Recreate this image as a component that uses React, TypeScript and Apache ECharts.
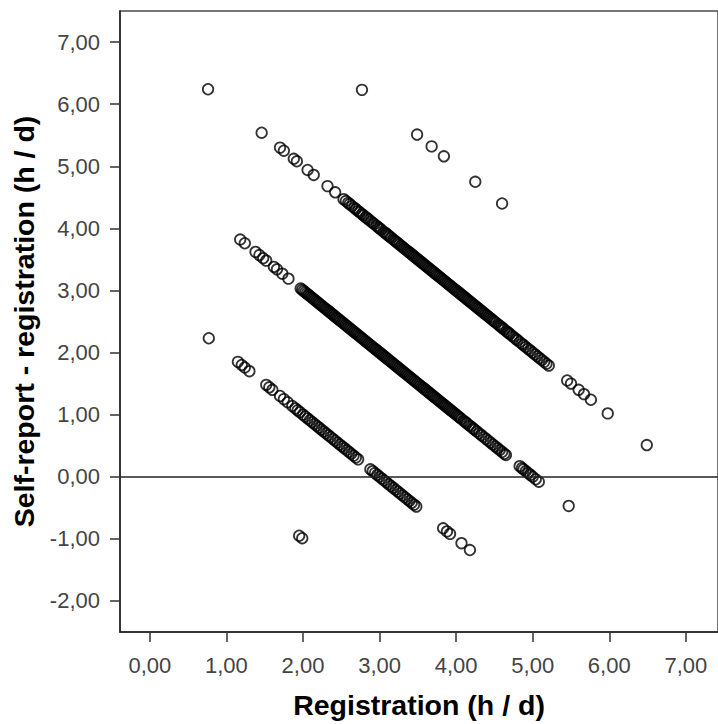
import React, { useEffect, useRef } from "react";
import * as echarts from "echarts";

// Self-reported hours per day (categories) and registered (measured) hours per day
const selfReport1 = 1;
const registration1 = [1.95, 1.99];

const selfReport3 = 3;
const registration3 = [
  0.77, 1.15, 1.2, 1.24, 1.3, 1.52, 1.56, 1.6, 1.7, 1.75, 1.8, 1.86, 1.9, 1.93, 1.96, 2.0,
  2.03, 2.06, 2.09, 2.12, 2.15, 2.18, 2.21, 2.24, 2.27, 2.3, 2.33, 2.36, 2.39, 2.42, 2.45,
  2.48, 2.51, 2.54, 2.57, 2.6, 2.63, 2.66, 2.69, 2.72, 2.88, 2.91, 2.94, 2.97, 3.0, 3.03,
  3.06, 3.09, 3.12, 3.15, 3.18, 3.21, 3.24, 3.27, 3.3, 3.33, 3.36, 3.39, 3.42, 3.45, 3.48,
  3.83, 3.88, 3.92, 4.07, 4.18,
];

const selfReport5 = 5;
const registration5 = [
  1.18, 1.24, 1.38, 1.43, 1.48, 1.52, 1.62, 1.66, 1.73, 1.81, 1.97, 1.99, 2.01, 2.03, 2.05,
  2.07, 2.09, 2.11, 2.13, 2.15, 2.17, 2.19, 2.21, 2.23, 2.25, 2.27, 2.29, 2.31, 2.33, 2.35,
  2.37, 2.39, 2.41, 2.43, 2.45, 2.47, 2.49, 2.51, 2.53, 2.55, 2.57, 2.59, 2.61, 2.63, 2.65,
  2.67, 2.69, 2.71, 2.73, 2.75, 2.77, 2.79, 2.81, 2.83, 2.85, 2.87, 2.89, 2.91, 2.93, 2.95,
  2.97, 2.99, 3.01, 3.03, 3.05, 3.07, 3.09, 3.11, 3.13, 3.15, 3.17, 3.19, 3.21, 3.23, 3.25,
  3.27, 3.29, 3.31, 3.33, 3.35, 3.37, 3.39, 3.41, 3.43, 3.45, 3.47, 3.49, 3.51, 3.53, 3.55,
  3.57, 3.59, 3.61, 3.63, 3.65, 3.67, 3.69, 3.71, 3.73, 3.75, 3.77, 3.79, 3.81, 3.83, 3.85,
  3.87, 3.89, 3.91, 3.93, 3.95, 3.97, 3.99, 4.01, 4.03, 4.05, 4.07, 4.1, 4.12, 4.14, 4.17,
  4.19, 4.22, 4.24, 4.27, 4.3, 4.33, 4.36, 4.39, 4.42, 4.45, 4.48, 4.51, 4.54, 4.57, 4.6,
  4.63, 4.65, 4.83, 4.86, 4.88, 4.91, 4.94, 4.97, 5.0, 5.04, 5.08, 5.47,
];

const selfReport7 = 7;
const registration7 = [
  0.76, 1.46, 1.7, 1.75, 1.88, 1.92, 2.06, 2.14, 2.32, 2.42, 2.53, 2.56, 2.59, 2.61, 2.64,
  2.67, 2.69, 2.72, 2.74, 2.77, 2.79, 2.82, 2.84, 2.86, 2.89, 2.91, 2.93, 2.96, 2.98, 3.0,
  3.02, 3.05, 3.07, 3.09, 3.11, 3.13, 3.15, 3.18, 3.2, 3.22, 3.24, 3.26, 3.28, 3.3, 3.32,
  3.34, 3.36, 3.38, 3.4, 3.42, 3.44, 3.46, 3.48, 3.5, 3.52, 3.54, 3.56, 3.58, 3.6, 3.62,
  3.64, 3.66, 3.68, 3.7, 3.72, 3.74, 3.76, 3.78, 3.8, 3.82, 3.84, 3.86, 3.88, 3.9, 3.92,
  3.94, 3.96, 3.98, 4.0, 4.02, 4.04, 4.06, 4.08, 4.1, 4.12, 4.14, 4.16, 4.18, 4.2, 4.22,
  4.24, 4.26, 4.28, 4.3, 4.32, 4.34, 4.36, 4.38, 4.4, 4.42, 4.44, 4.46, 4.48, 4.5, 4.52,
  4.55, 4.57, 4.59, 4.61, 4.63, 4.66, 4.68, 4.7, 4.73, 4.75, 4.78, 4.8, 4.83, 4.86, 4.88,
  4.91, 4.94, 4.97, 5.0, 5.03, 5.06, 5.09, 5.12, 5.15, 5.18, 5.21, 5.45, 5.5, 5.6, 5.67,
  5.76, 5.98, 6.49,
];

const selfReport9 = 9;
const registration9 = [2.77, 3.49, 3.68, 3.84, 4.25, 4.6];

const xTicks = [0, 1, 2, 3, 4, 5, 6, 7];
const yTicks = [-2, -1, 0, 1, 2, 3, 4, 5, 6, 7];
const referenceLineY = 0;

const groups: Array<[number, number[]]> = [
  [selfReport1, registration1],
  [selfReport3, registration3],
  [selfReport5, registration5],
  [selfReport7, registration7],
  [selfReport9, registration9],
];

const fmt = (v: number) => v.toFixed(2).replace(".", ",");
const FONT = "'Liberation Sans', Arial, sans-serif";

export default function App() {
  const ref = useRef<HTMLDivElement>(null);
  useEffect(() => {
    if (!ref.current) return;
    const chart = echarts.init(ref.current, null, { renderer: "svg" });
    const points: number[][] = [];
    groups.forEach(([s, regs]) => {
      regs.forEach((r) => points.push([r, Math.round((s - r) * 100) / 100]));
    });
    chart.setOption({
      animation: false,
      backgroundColor: "#ffffff",
      grid: {
        left: 120,
        top: 11,
        right: -3,
        bottom: 92,
        show: true,
        borderColor: "#4a4a4a",
        borderWidth: 1.5,
        backgroundColor: "transparent",
      },
      xAxis: {
        type: "value",
        min: -0.39,
        max: 7.42,
        name: "Registration (h / d)",
        nameLocation: "middle",
        nameGap: 58,
        nameTextStyle: { fontSize: 28.5, fontWeight: "bold", color: "#000", fontFamily: FONT },
        axisLine: { show: true, onZero: false, lineStyle: { color: "#222", width: 1.5 } },
        axisTick: {
          show: true,
          customValues: xTicks,
          length: 10,
          lineStyle: { color: "#333", width: 1.5 },
        },
        axisLabel: {
          customValues: xTicks,
          formatter: fmt,
          margin: 22,
          fontSize: 22,
          color: "#444",
          fontFamily: FONT,
        },
        splitLine: { show: false },
      },
      yAxis: {
        type: "value",
        min: -2.5,
        max: 7.5,
        name: "Self-report - registration (h / d)",
        nameLocation: "middle",
        nameGap: 82,
        nameRotate: 90,
        nameTextStyle: { fontSize: 28.5, fontWeight: "bold", color: "#000", fontFamily: FONT },
        axisLine: { show: true, onZero: false, lineStyle: { color: "#222", width: 1.5 } },
        axisTick: {
          show: true,
          customValues: yTicks,
          length: 10,
          lineStyle: { color: "#333", width: 1.5 },
        },
        axisLabel: {
          customValues: yTicks,
          formatter: fmt,
          margin: 20,
          fontSize: 22,
          color: "#444",
          fontFamily: FONT,
        },
        splitLine: { show: false },
      },
      series: [
        {
          type: "scatter",
          data: points,
          symbol: "circle",
          symbolSize: 10.5,
          itemStyle: { color: "rgba(0,0,0,0)", borderColor: "#000", borderWidth: 1.8 },
          markLine: {
            silent: true,
            symbol: ["none", "none"],
            label: { show: false },
            lineStyle: { color: "#222", width: 1.5, type: "solid" },
            data: [{ yAxis: referenceLineY }],
          },
        },
      ],
    });
    return () => chart.dispose();
  }, []);
  return (
    <div
      ref={ref}
      style={{ position: "absolute", left: 0, top: 0, width: 718, height: 724, background: "#fff" }}
    />
  );
}
